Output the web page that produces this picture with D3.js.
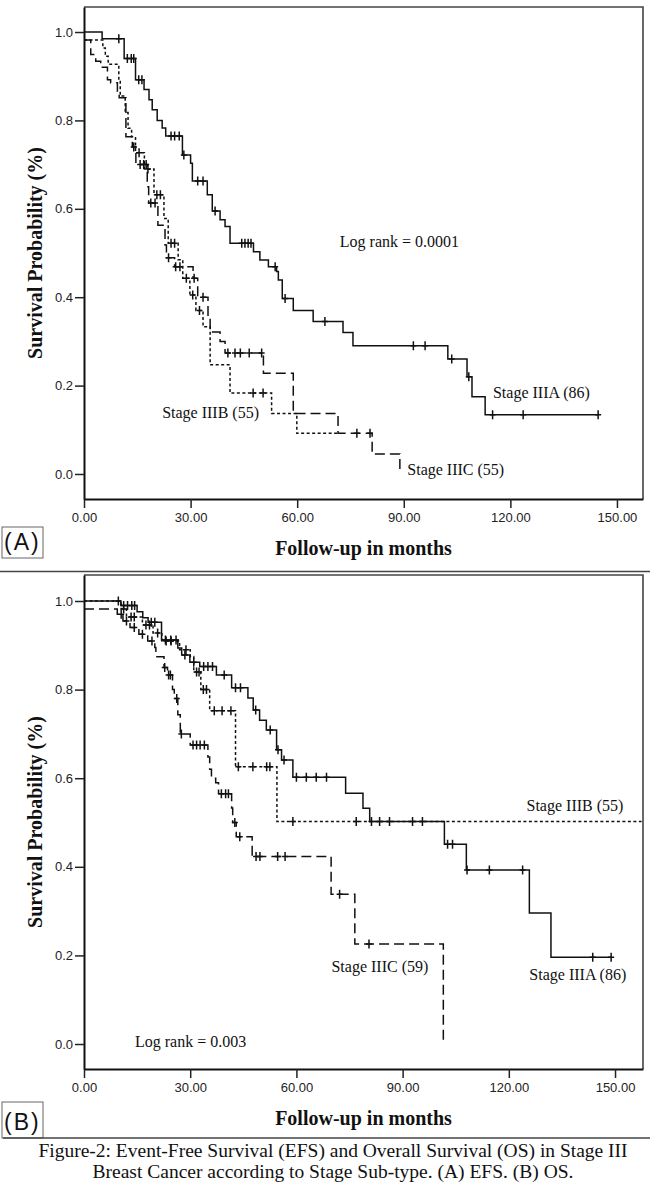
<!DOCTYPE html>
<html>
<head>
<meta charset="utf-8">
<script src="https://cdn.jsdelivr.net/npm/d3@7"></script>
<style>
  body { margin: 0; background: #fff; }
  svg { display: block; }
  .tick text { font-family: "Liberation Sans", Arial, sans-serif; font-size: 13px; fill: #222; }
  .label { font-family: "Liberation Serif", "Times New Roman", serif; font-size: 16px; fill: #111; }
  .title { font-family: "Liberation Serif", "Times New Roman", serif; font-size: 20px; font-weight: bold; fill: #111; }
  .caption { font-family: "Liberation Serif", "Times New Roman", serif; font-size: 19.5px; fill: #111; }
  .tag { font-family: "Liberation Sans", Arial, sans-serif; font-size: 23px; fill: #111; letter-spacing: 2px; }
</style>
</head>
<body>
<div id="chart"></div>
<script>
const width = 650, height = 1188;

// axis ticks (same for both panels)
const xTicks = [0, 30, 60, 90, 120, 150];
const xTickLabels = ["0.00", "30.00", "60.00", "90.00", "120.00", "150.00"];
const yTicks = [0, 0.2, 0.4, 0.6, 0.8, 1.0];
const yTickLabels = ["0.0", "0.2", "0.4", "0.6", "0.8", "1.0"];

// (A) Event-free survival: [month, survival after step]
const efsIIIA = [[0,1.0],[5.1,0.985],[11.3,0.94],[14.5,0.892],[16.9,0.87],[18.3,0.847],[19.2,0.824],[20.6,0.80],[22.0,0.783],[23.0,0.765],[27.7,0.722],[30.0,0.703],[30.5,0.663],[34.7,0.632],[36.1,0.595],[38.3,0.575],[39.7,0.56],[41.1,0.522],[47.7,0.503],[49.5,0.484],[51.9,0.469],[54.2,0.458],[54.7,0.439],[55.8,0.397],[58.9,0.37],[64.5,0.345],[72.9,0.32],[75.7,0.29],[102.4,0.26],[107.8,0.22],[109.2,0.175],[112.9,0.134]];
const efsIIIACensor = [9.8, 12.2, 13.3, 14.0, 15.4, 16.3, 24.5, 25.5, 26.8, 28.1, 32.0, 33.5, 36.9, 44.4, 45.3, 46.2, 47.0, 53.8, 56.6, 67.8, 92.7, 96.0, 103.5, 108.3, 115.0, 123.6, 144.7];
const efsIIIAEnd = 144.7;

const efsIIIB = [[0,0.982],[5.3,0.964],[6.0,0.945],[6.8,0.927],[9.8,0.89],[10.2,0.855],[11.6,0.818],[12.4,0.782],[13.4,0.763],[14.5,0.727],[17.0,0.69],[19.7,0.632],[22.5,0.578],[23.7,0.522],[26.5,0.485],[27.8,0.443],[29.8,0.405],[31.5,0.37],[33.5,0.333],[35.5,0.247],[41.1,0.183],[52.8,0.137],[59.9,0.092]];
const efsIIIBCensor = [15.5, 18.0, 20.5, 21.5, 24.5, 25.5, 28.8, 30.6, 32.5, 47.6, 50.4];
const efsIIIBEnd = 72.0;

const efsIIIC = [[0,0.982],[1.9,0.949],[3.3,0.934],[4.7,0.92],[6.6,0.892],[7.5,0.885],[9.4,0.866],[9.9,0.851],[11.8,0.763],[13.6,0.74],[14.6,0.70],[17.8,0.65],[18.2,0.613],[20.8,0.563],[22.8,0.518],[23.2,0.489],[25.5,0.469],[30.7,0.443],[32.0,0.40],[34.9,0.355],[35.5,0.321],[38.3,0.30],[39.7,0.274],[50.5,0.228],[58.9,0.137],[71.5,0.092],[81.1,0.045],[88.9,0]];
const efsIIICCensor = [14.0, 15.8, 16.8, 17.5, 18.8, 20.0, 23.8, 25.8, 27.0, 31.0, 33.5, 40.5, 42.5, 44.0, 46.5, 50.0, 76.8, 80.5];
const efsIIICEnd = 88.9;

// (B) Overall survival
const osIIIA = [[0,1.0],[10.4,0.99],[15.0,0.976],[16.6,0.962],[18.1,0.952],[21.9,0.912],[26.5,0.894],[27.6,0.878],[29.9,0.862],[32.7,0.852],[37.4,0.833],[41.7,0.804],[46.3,0.781],[47.8,0.754],[49.6,0.731],[51.5,0.709],[54.4,0.664],[55.8,0.641],[59.0,0.602],[73.9,0.566],[78.8,0.532],[80.7,0.502],[101.8,0.451],[108.0,0.393],[125.8,0.296],[131.9,0.196]];
const osIIIACensor = [9.7, 11.2, 12.3, 13.5, 14.3, 19.0, 20.0, 23.0, 24.5, 26.0, 28.5, 31.0, 33.8, 35.0, 36.3, 39.6, 42.8, 44.2, 48.5, 52.6, 54.8, 56.5, 60.0, 62.8, 65.6, 68.5, 81.2, 86.3, 95.6, 102.7, 104.1, 108.2, 114.5, 123.9, 143.7, 148.9];
const osIIIAEnd = 148.9;

const osIIIB = [[0,1.0],[10.5,0.982],[12.0,0.964],[16.5,0.946],[19.5,0.928],[22.0,0.91],[27.0,0.89],[30.0,0.875],[31.0,0.84],[33.0,0.80],[35.5,0.752],[42.8,0.626],[54.5,0.502]];
const osIIIBCensor = [11.2, 13.3, 14.2, 17.5, 18.5, 20.8, 23.2, 24.6, 28.8, 31.8, 32.5, 33.7, 34.6, 36.8, 39.0, 41.5, 43.6, 47.7, 51.6, 52.5, 59.0, 76.9, 83.5, 92.8];
const osIIIBEnd = 157.5;

const osIIIC = [[0,0.982],[9.4,0.97],[11.0,0.955],[13.0,0.94],[15.5,0.925],[18.0,0.91],[20.0,0.895],[20.3,0.874],[22.6,0.85],[23.6,0.833],[25.0,0.80],[25.5,0.78],[26.5,0.743],[27.2,0.70],[30.0,0.675],[35.0,0.648],[35.5,0.62],[36.0,0.60],[37.2,0.59],[38.0,0.565],[41.7,0.533],[42.0,0.50],[43.0,0.468],[47.5,0.423],[69.8,0.338],[76.5,0.226],[101.5,0]];
const osIIICCensor = [10.5, 12.0, 14.2, 16.5, 19.2, 22.8, 23.9, 24.4, 26.2, 27.5, 30.8, 31.8, 32.8, 34.0, 38.8, 40.0, 40.8, 42.6, 44.0, 48.6, 49.7, 54.7, 56.8, 72.2, 80.5];
const osIIICEnd = 101.5;

const captionLines = [
    "Figure-2: Event-Free Survival (EFS) and Overall Survival (OS) in Stage III",
    "Breast Cancer according to Stage Sub-type. (A) EFS. (B) OS."
];

// line style per stage
const dashes = { IIIA: null, IIIB: "3,2.5", IIIC: "10,5" };

const svg = d3.select("#chart")
    .append("svg")
    .attr("width", width)
    .attr("height", height);

// survival value at time t for a step series
function survivalAt(steps, t) {
    let s = steps[0][1];
    steps.forEach(d => { if (d[0] <= t) s = d[1]; });
    return s;
}

function drawPanel(p) {
    const x = d3.scaleLinear().domain(p.xDomain).range([84, 643]);
    const y = d3.scaleLinear().domain(p.yDomain).range([p.bottom, p.top]);
    const g = svg.append("g");

    // top and right frame
    g.append("path")
        .attr("d", `M84,${p.top}H643V${p.bottom}`)
        .attr("fill", "none")
        .attr("stroke", "#444")
        .attr("stroke-width", 1.6);

    // axes
    const xAxis = g.append("g")
        .attr("transform", `translate(0,${p.bottom})`)
        .call(d3.axisBottom(x).tickValues(xTicks).tickSize(9).tickSizeOuter(0).tickPadding(5)
            .tickFormat((d, i) => xTickLabels[i]));
    const yAxis = g.append("g")
        .attr("transform", "translate(84,0)")
        .call(d3.axisLeft(y).tickValues(yTicks).tickSize(9).tickSizeOuter(0).tickPadding(2)
            .tickFormat((d, i) => yTickLabels[i]));
    [xAxis, yAxis].forEach(a => {
        a.select(".domain").attr("stroke", "#111").attr("stroke-width", 2);
        a.selectAll(".tick line").attr("stroke", "#222").attr("stroke-width", 1.5);
    });

    // axis titles
    g.append("text")
        .attr("class", "title")
        .attr("text-anchor", "middle")
        .attr("transform", `translate(42,${(p.top + p.bottom) / 2}) rotate(-90)`)
        .text("Survival Probability (%)");
    g.append("text")
        .attr("class", "title")
        .attr("text-anchor", "middle")
        .attr("x", 363.5)
        .attr("y", p.bottom + 56)
        .text("Follow-up in months");

    const line = d3.line()
        .x(d => x(d[0]))
        .y(d => y(d[1]))
        .curve(d3.curveStepAfter);

    p.series.forEach(s => {
        const pts = s.steps.concat([[s.end, s.steps[s.steps.length - 1][1]]]);
        g.append("path")
            .attr("d", line(pts))
            .attr("fill", "none")
            .attr("stroke", "#111")
            .attr("stroke-width", 1.5)
            .attr("stroke-dasharray", dashes[s.stage]);

        // censor ticks
        g.append("g")
            .selectAll("path")
            .data(s.censor)
            .enter().append("path")
            .attr("d", t => {
                const cx = x(t), cy = y(survivalAt(s.steps, t));
                return `M${cx - 3},${cy}H${cx + 3}M${cx},${cy - 4.5}V${cy + 4.5}`;
            })
            .attr("stroke", "#111")
            .attr("stroke-width", 1.5);
    });

    p.labels.forEach(l => {
        g.append("text")
            .attr("class", "label")
            .attr("x", x(l.m))
            .attr("y", y(l.s))
            .text(l.text);
    });

    // panel tag
    g.append("rect")
        .attr("x", 2).attr("y", p.tagY)
        .attr("width", 41).attr("height", p.tagH)
        .attr("fill", "none")
        .attr("stroke", "#666")
        .attr("stroke-width", 1);
    g.append("text")
        .attr("class", "tag")
        .attr("x", 4)
        .attr("y", p.tagY + p.tagH - 8)
        .text(p.tag);
}

drawPanel({
    top: 7, bottom: 499,
    xDomain: [0, 157.33], yDomain: [-0.0566, 1.0566],
    tag: "(A)", tagY: 527, tagH: 31,
    series: [
        { stage: "IIIA", steps: efsIIIA, censor: efsIIIACensor, end: efsIIIAEnd },
        { stage: "IIIB", steps: efsIIIB, censor: efsIIIBCensor, end: efsIIIBEnd },
        { stage: "IIIC", steps: efsIIIC, censor: efsIIICCensor, end: efsIIICEnd }
    ],
    labels: [
        { text: "Log rank = 0.0001", m: 72, s: 0.514 },
        { text: "Stage IIIA (86)", m: 115.1, s: 0.171 },
        { text: "Stage IIIB (55)", m: 22, s: 0.127 },
        { text: "Stage IIIC (55)", m: 91, s: -0.002 }
    ]
});

drawPanel({
    top: 575, bottom: 1069,
    xDomain: [0, 157.9], yDomain: [-0.0564, 1.0587],
    tag: "(B)", tagY: 1102, tagH: 36,
    series: [
        { stage: "IIIA", steps: osIIIA, censor: osIIIACensor, end: osIIIAEnd },
        { stage: "IIIB", steps: osIIIB, censor: osIIIBCensor, end: osIIIBEnd },
        { stage: "IIIC", steps: osIIIC, censor: osIIICCensor, end: osIIICEnd }
    ],
    labels: [
        { text: "Stage IIIB (55)", m: 125, s: 0.527 },
        { text: "Stage IIIC (59)", m: 69.9, s: 0.163 },
        { text: "Stage IIIA (86)", m: 125.8, s: 0.144 },
        { text: "Log rank = 0.003", m: 14.4, s: -0.006 }
    ]
});

// separators
svg.append("line")
    .attr("x1", 0).attr("x2", width)
    .attr("y1", 571.5).attr("y2", 571.5)
    .attr("stroke", "#444").attr("stroke-width", 1.6);
svg.append("line")
    .attr("x1", 3).attr("x2", width)
    .attr("y1", 1138).attr("y2", 1138)
    .attr("stroke", "#444").attr("stroke-width", 1.3);

// caption
svg.selectAll(".caption")
    .data(captionLines)
    .enter().append("text")
    .attr("class", "caption")
    .attr("text-anchor", "middle")
    .attr("x", 333)
    .attr("y", (d, i) => 1157 + i * 21)
    .text(d => d);
</script>
</body>
</html>
